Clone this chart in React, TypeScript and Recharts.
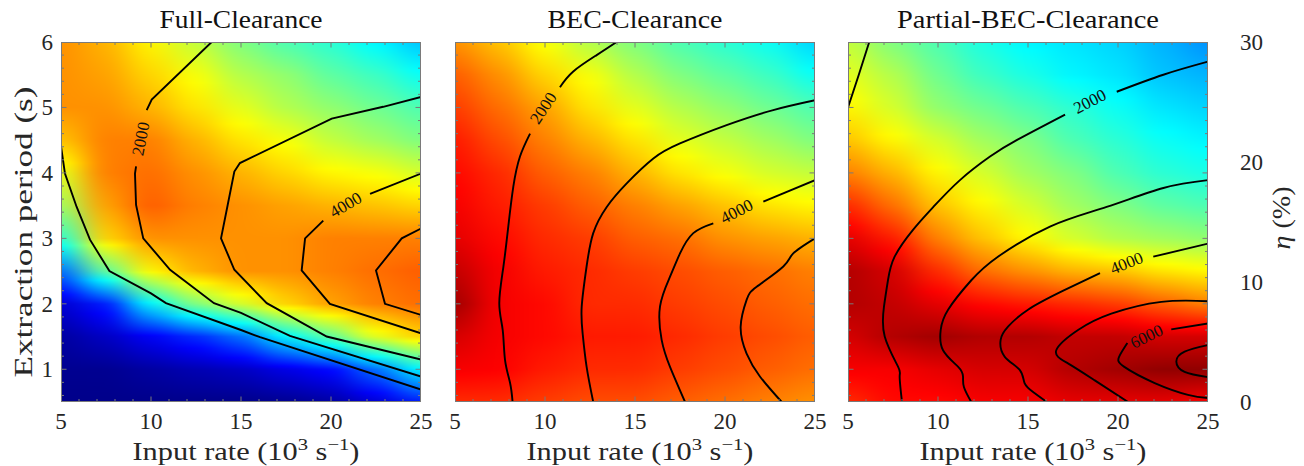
import React from 'react';
import { ComposedChart, XAxis, YAxis, Scatter, ReferenceArea } from 'recharts';

const FONT = "'Liberation Serif', 'Times New Roman', serif";
const AXIS_COLOR = '#7a7a7a';
const TEXT_COLOR = '#262626';

// ---- grid of the colour field (eta, %) : rows = extraction period (top->bottom), cols = input rate ----
const X_GRID = [5, 7.5, 10, 12.5, 15, 17.5, 20, 22.5, 25];
const Y_GRID = [6, 5.5, 5, 4.5, 4, 3.5, 3, 2.5, 2, 1.5, 1, 0.5];
const X_DOMAIN = [5, 25];
const Y_DOMAIN = [0.5, 6];

const FULL_ETA = [
  [22, 21, 19, 17, 15, 13.5, 12.5, 11, 9.5],
  [22, 21.5, 20, 18.5, 16.5, 15.5, 14, 13, 11.5],
  [22, 22, 21, 19.5, 18, 16.5, 15.5, 14.5, 13.5],
  [20.5, 22.5, 22.5, 21, 19.5, 18.5, 17, 16, 15],
  [18, 22.5, 23, 22, 21, 20, 19, 18.5, 17.5],
  [16, 21.5, 23.5, 22.5, 22, 21.5, 21, 20.5, 20],
  [12.5, 20, 22, 22, 22, 22, 22.5, 22.5, 22.5],
  [7, 14, 19, 21, 22, 22, 22.5, 23, 23.5],
  [2.5, 4.5, 11, 15, 17.5, 20, 21.5, 22.5, 23],
  [1, 2, 3.5, 5, 7, 11, 14, 18, 20],
  [0.5, 0.5, 1, 1.5, 2, 3, 4, 7, 11],
  [0.3, 0.3, 0.3, 0.3, 0.3, 0.5, 1, 2.5, 4.5],
];

const BEC_ETA = [
  [22, 20.5, 18.5, 16.5, 15, 13.5, 12.5, 11.5, 10],
  [23.5, 22, 20, 18.5, 16.5, 15, 14, 13, 11.5],
  [24.5, 23, 21.5, 19.5, 18, 16.5, 15.5, 14.5, 13.5],
  [25.5, 24, 22.5, 21, 19.5, 18, 17, 16, 15],
  [26, 25, 23.5, 22.5, 21, 19.5, 18.5, 17.5, 17],
  [26.5, 25.5, 24.5, 23.5, 22.5, 21.5, 20.5, 19.5, 19],
  [27, 26, 25, 24.5, 23.5, 23, 22, 21.5, 21],
  [28, 26.5, 25.5, 25, 24.5, 24, 23.5, 23, 22.5],
  [29, 26.5, 26, 25, 25, 24.5, 24, 23.5, 23],
  [27.5, 26.5, 26, 25.5, 25.5, 25, 24.5, 24, 23.5],
  [26.5, 26.3, 25.5, 25, 25, 24.5, 24, 23.5, 23],
  [25, 25, 24.5, 24, 24, 23.5, 23, 22.5, 22],
];

const PARTIAL_ETA = [
  [17, 15, 13.5, 12, 11, 10.5, 10, 9, 8],
  [18, 16.5, 14.5, 13, 12, 11, 10.5, 9.5, 9],
  [19, 17.5, 15.5, 14.5, 13.5, 12.5, 11.5, 10.5, 10],
  [20.5, 19, 17.5, 16, 15, 13.5, 12.5, 11.5, 11],
  [22.5, 21, 19, 17.5, 16, 15, 13.5, 12.5, 12],
  [25, 23, 20.5, 19, 17.5, 16, 15, 14, 13.5],
  [27, 25.5, 22.5, 20.5, 19, 17.5, 16.5, 16, 15.5],
  [28.5, 27.5, 25, 23, 22, 21, 20.5, 19.5, 19],
  [28.5, 28, 27, 26, 25.5, 25, 24.5, 23.5, 22.5],
  [27.5, 28.5, 29, 28.5, 28.5, 28, 28, 27.5, 27.5],
  [26.5, 26.5, 27, 27.5, 27.5, 28.5, 29, 29.5, 29.5],
  [25, 26, 26, 26.5, 26.5, 27, 27, 27, 26.5],
];

// ---- ticks ----
const X_TICKS = [5, 6, 7, 8, 9, 10, 11, 12, 13, 14, 15, 16, 17, 18, 19, 20, 21, 22, 23, 24, 25];
const Y_TICKS = [0.6, 0.8, 1, 1.2, 1.4, 1.6, 1.8, 2, 2.2, 2.4, 2.6, 2.8, 3, 3.2, 3.4, 3.6, 3.8, 4, 4.2, 4.4, 4.6, 4.8, 5, 5.2, 5.4, 5.6, 5.8, 6];
const CB_TICKS = [0, 10, 20, 30];

// ---- contour lines [input rate, extraction period] ----
const FULL_C1000 = [[5, 4.41], [5.22, 3.99], [5.87, 3.48], [6.61, 2.98], [7.69, 2.5], [10.0, 2.16], [10.83, 2.01], [15.0, 1.6], [16.06, 1.49], [25, 0.69]];
const FULL_C2000_A = [[13.37, 6.0], [10.04, 5.12], [9.76, 4.96]];
const FULL_C2000_B = [[9.17, 4.1], [9.11, 3.99], [9.17, 3.51], [9.57, 3.0], [11.06, 2.52], [13.5, 2.01], [15.0, 1.86], [17.72, 1.51], [25, 0.89]];
const FULL_C3000 = [[25, 5.16], [22.9, 5.01], [20.04, 4.83], [14.94, 4.15], [14.63, 4.02], [14.26, 3.51], [13.89, 3.0], [14.63, 2.52], [16.43, 2.01], [19.76, 1.5], [25, 1.15]];
const FULL_C4000_A = [[25, 3.99], [22.17, 3.68]];
const FULL_C4000_B = [[19.57, 3.27], [18.56, 3.0], [18.37, 2.51], [19.94, 2.0], [25, 1.55]];
const FULL_C5000 = [[25, 3.15], [23.93, 3.0], [22.5, 2.51], [23.0, 2.0], [25, 1.83]];
const FULL_LABELS = [{ x: 9.44, y: 4.52, t: '2000' }, { x: 20.82, y: 3.51, t: '4000' }];
const FULL_LABEL_ANGLES = [-79, -30];

const BEC_C2000_A = [[13.98, 6.0], [12.87, 5.8], [11.57, 5.55], [10.83, 5.31]];
const BEC_C2000_B = [[9.17, 4.6], [8.61, 4.25], [8.24, 3.79], [7.96, 3.18], [7.69, 2.57], [7.46, 2.01], [7.65, 1.6], [7.78, 1.14], [8.06, 0.79], [8.2, 0.5]];
const BEC_C3000 = [[25, 5.11], [22.68, 4.96], [20.09, 4.73], [17.5, 4.45], [16.02, 4.22], [14.54, 3.84], [13.43, 3.48], [12.68, 3.08], [12.31, 2.57], [12.04, 1.96], [12.09, 1.55], [12.31, 1.04], [12.68, 0.5]];
const BEC_C4000_A = [[25, 3.89], [22.13, 3.56]];
const BEC_C4000_B = [[19.35, 3.23], [18.24, 3.08], [17.5, 2.77], [16.94, 2.41], [16.39, 1.96], [16.48, 1.45], [16.94, 1.04], [17.78, 0.5]];
const BEC_C5000 = [[25, 3.0], [23.79, 2.77], [23.24, 2.57], [21.76, 2.26], [21.2, 2.06], [20.87, 1.65], [21.2, 1.24], [21.94, 0.89], [23.15, 0.5]];
const BEC_LABELS = [{ x: 9.91, y: 4.99, t: '2000' }, { x: 20.65, y: 3.41, t: '4000' }];
const BEC_LABEL_ANGLES = [-56, -27];

const PART_C1000 = [[6.18, 6.0], [5.6, 5.5], [5.0, 5.0]];
const PART_C2000_A = [[25, 5.7], [22.52, 5.5], [19.93, 5.24]];
const PART_C2000_B = [[17.06, 4.89], [14.37, 4.5], [12.89, 4.25], [11.22, 3.89], [9.74, 3.48], [8.61, 3.13], [7.59, 2.72], [7.22, 2.36], [7.0, 1.96], [7.04, 1.5], [7.78, 1.04], [7.87, 0.89], [8.0, 0.5]];
const PART_C3000 = [[25, 3.89], [22.52, 3.77], [19.37, 3.48], [16.22, 3.18], [13.33, 2.72], [11.85, 2.36], [10.56, 1.91], [10.15, 1.6], [10.28, 1.29], [11.11, 1.04], [11.39, 0.89], [11.44, 0.73], [11.85, 0.5]];
const PART_C4000_A = [[25, 2.92], [21.96, 2.72]];
const PART_C4000_B = [[19.0, 2.47], [16.96, 2.2], [15.0, 1.91], [13.89, 1.65], [13.48, 1.45], [13.71, 1.19], [14.54, 0.99], [14.81, 0.79], [15.3, 0.65], [16.04, 0.5]];
const PART_C5000 = [[25, 2.04], [22.41, 2.03], [19.63, 1.85], [17.78, 1.6], [16.57, 1.29], [17.22, 1.09], [18.71, 0.83], [20.56, 0.5]];
const PART_C6000_A = [[25, 1.7], [22.96, 1.61]];
const PART_C6000_B = [[20.52, 1.4], [20.06, 1.19], [20.33, 1.04], [22.04, 0.79], [23.89, 0.61], [25, 0.56]];
const PART_C7000 = [[25, 1.37], [23.7, 1.27], [23.24, 1.12], [23.7, 0.96], [25, 0.88]];
const PART_LABELS = [{ x: 18.44, y: 5.09, t: '2000' }, { x: 20.48, y: 2.62, t: '4000' }, { x: 21.59, y: 1.5, t: '6000' }];
const PART_LABEL_ANGLES = [-27, -22, -26];

// ---- helpers ----
function jet(v: number): string {
  const t = Math.max(0, Math.min(1, v / 30));
  const c = (a: number) => Math.round(255 * Math.max(0, Math.min(1, a)));
  const r = c(Math.min(4 * t - 1.5, -4 * t + 4.5));
  const g = c(Math.min(4 * t - 0.5, -4 * t + 3.5));
  const b = c(Math.min(4 * t + 0.5, -4 * t + 2.5));
  return `rgb(${r},${g},${b})`;
}
const JET_BREAKS = [3.75, 11.25, 18.75, 26.25];

// gradient stops for one column (values top -> bottom), inserting jet breakpoints so colours follow the value linearly
function columnStops(vals: number[]): [number, number][] {
  const n = vals.length;
  const out: [number, number][] = [];
  for (let i = 0; i < n; i++) {
    const o = i / (n - 1);
    out.push([o, vals[i]]);
    if (i < n - 1) {
      const a = vals[i];
      const b = vals[i + 1];
      const o2 = (i + 1) / (n - 1);
      const bs = JET_BREAKS.filter((k) => (k - a) * (k - b) < 0).sort((p, q) => (a < b ? p - q : q - p));
      bs.forEach((k) => out.push([o + ((k - a) / (b - a)) * (o2 - o), k]));
    }
  }
  return out;
}

const toPts = (arr: number[][]) => arr.map(([x, y]) => ({ x, y }));
const heatColumns = (eta: number[][]) =>
  X_GRID.map((x, j) => ({ x, y: (Y_DOMAIN[0] + Y_DOMAIN[1]) / 2, j, vals: eta.map((row) => row[j]) }));

const FRAME = [
  { x: X_DOMAIN[0], y: Y_DOMAIN[0] },
  { x: X_DOMAIN[1], y: Y_DOMAIN[0] },
  { x: X_DOMAIN[1], y: Y_DOMAIN[1] },
  { x: X_DOMAIN[0], y: Y_DOMAIN[1] },
  { x: X_DOMAIN[0], y: Y_DOMAIN[0] },
];
const TICK_MARKS = [
  ...X_TICKS.map((t) => ({ x: t, y: Y_DOMAIN[0], side: 'b' })),
  ...X_TICKS.map((t) => ({ x: t, y: Y_DOMAIN[1], side: 't' })),
  ...Y_TICKS.map((t) => ({ x: X_DOMAIN[0], y: t, side: 'l' })),
  ...Y_TICKS.map((t) => ({ x: X_DOMAIN[1], y: t, side: 'r' })),
];

const PLOT_W = 360;
const PLOT_H = 360;
const CELL_W = (PLOT_W / (X_DOMAIN[1] - X_DOMAIN[0])) * (X_GRID[1] - X_GRID[0]);
const EXT = 40;

const makeHeatColumn = (prefix: string) => (props: any) => {
  const { cx, cy } = props;
  const d = props.payload || props;
  if (cx == null || cy == null) return <g />;
  let x0 = cx - CELL_W / 2 - 0.5;
  let x1 = cx + CELL_W / 2 + 0.5;
  if (d.j === 0) x0 -= EXT;
  if (d.j === X_GRID.length - 1) x1 += EXT;
  const id = `${prefix}-col-${d.j}`;
  return (
    <g>
      <defs>
        <linearGradient id={id} x1="0" y1="0" x2="0" y2="1">
          {columnStops(d.vals).map(([o, v], i) => (
            <stop key={i} offset={o} stopColor={jet(v)} />
          ))}
        </linearGradient>
      </defs>
      <rect x={x0} y={cy - PLOT_H / 2} width={x1 - x0} height={PLOT_H} fill={`url(#${id})`} stroke="none" />
    </g>
  );
};

const NoShape = () => <g />;

const TickMark = (props: any) => {
  const { cx, cy } = props;
  const d = props.payload || props;
  const horiz = d.side === 'b' || d.side === 't';
  const major = horiz ? isMult(d.x, 5) : isMult(d.y, 1);
  const len = major ? 5.5 : 3;
  if (d.side === 'b') return <line x1={cx} x2={cx} y1={cy} y2={cy - len} stroke={AXIS_COLOR} strokeWidth={1} />;
  if (d.side === 't') return <line x1={cx} x2={cx} y1={cy} y2={cy + len} stroke={AXIS_COLOR} strokeWidth={1} />;
  if (d.side === 'l') return <line x1={cx} x2={cx + len} y1={cy} y2={cy} stroke={AXIS_COLOR} strokeWidth={1} />;
  return <line x1={cx} x2={cx - len} y1={cy} y2={cy} stroke={AXIS_COLOR} strokeWidth={1} />;
};

const makeLabelShape = (angles: number[], labels: { t: string }[]) => (props: any) => {
  const { cx, cy } = props;
  const d = props.payload || props;
  const idx = labels.findIndex((l) => l.t === d.t);
  const a = angles[idx] ?? 0;
  return (
    <text
      x={cx}
      y={cy}
      transform={`rotate(${a} ${cx} ${cy})`}
      textAnchor="middle"
      dominantBaseline="central"
      fontSize={17}
      fontFamily={FONT}
      fill="#111"
    >
      {d.t}
    </text>
  );
};

function isMult(v: number, m: number) {
  return Math.abs(v / m - Math.round(v / m)) < 1e-6;
}

const BottomTick = (props: any) => {
  const { x, y, payload } = props;
  const v = payload.value;
  if (!isMult(v, 5)) return <g />;
  return (
    <text x={x} y={y + 27} textAnchor="middle" fontSize={23} fontFamily={FONT} fill={TEXT_COLOR}>
      {v}
    </text>
  );
};

const makeLeftTick = (showLabels: boolean) => (props: any) => {
  const { x, y, payload } = props;
  const v = payload.value;
  if (!showLabels || !isMult(v, 1)) return <g />;
  return (
    <text x={x - 8} y={y + 8} textAnchor="end" fontSize={23} fontFamily={FONT} fill={TEXT_COLOR}>
      {Math.round(v)}
    </text>
  );
};

const PanelTexts = ({ title, titleLen, showY }: any) => (
  <g>
    <text x={241} y={28} textAnchor="middle" fontSize={25} fontFamily={FONT} fill="#111" textLength={titleLen} lengthAdjust="spacingAndGlyphs">
      {title}
    </text>
    <text x={246} y={460} textAnchor="middle" fontSize={25} fontFamily={FONT} fill={TEXT_COLOR} textLength={227} lengthAdjust="spacingAndGlyphs">
      Input rate (10
      <tspan dy={-10} fontSize={17}>3</tspan>
      <tspan dy={10}>{' s'}</tspan>
      <tspan dy={-10} fontSize={17}>−1</tspan>
      <tspan dy={10}>)</tspan>
    </text>
    {showY && (
      <text
        x={31.5}
        y={232}
        transform="rotate(-90 31.5 232)"
        textAnchor="middle"
        fontSize={25}
        fontFamily={FONT}
        fill={TEXT_COLOR}
        textLength={291}
        lengthAdjust="spacingAndGlyphs"
      >
        Extraction period (s)
      </text>
    )}
  </g>
);

const CbLabelText = ({ px, py }: any) => (
  <text
    x={px}
    y={py}
    transform={`rotate(-90 ${px} ${py})`}
    textAnchor="middle"
    fontSize={25}
    fontFamily={FONT}
    fill={TEXT_COLOR}
    textLength={63}
    lengthAdjust="spacingAndGlyphs"
  >
    <tspan fontStyle="italic">η</tspan> (%)
  </text>
);

type PanelCfg = {
  id: string;
  left: number;
  title: string;
  titleLen: number;
  eta: number[][];
  lines: number[][][];
  curve: any;
  labels: { x: number; y: number; t: string }[];
  angles: number[];
  showY: boolean;
};

const PANELS: PanelCfg[] = [
  {
    id: 'full',
    left: 0,
    title: 'Full-Clearance',
    titleLen: 163,
    eta: FULL_ETA,
    lines: [FULL_C1000, FULL_C2000_A, FULL_C2000_B, FULL_C3000, FULL_C4000_A, FULL_C4000_B, FULL_C5000],
    curve: 'linear',
    labels: FULL_LABELS,
    angles: FULL_LABEL_ANGLES,
    showY: true,
  },
  {
    id: 'bec',
    left: 394,
    title: 'BEC-Clearance',
    titleLen: 175,
    eta: BEC_ETA,
    lines: [BEC_C2000_A, BEC_C2000_B, BEC_C3000, BEC_C4000_A, BEC_C4000_B, BEC_C5000],
    curve: 'natural',
    labels: BEC_LABELS,
    angles: BEC_LABEL_ANGLES,
    showY: false,
  },
  {
    id: 'part',
    left: 787,
    title: 'Partial-BEC-Clearance',
    titleLen: 262,
    eta: PARTIAL_ETA,
    lines: [PART_C1000, PART_C2000_A, PART_C2000_B, PART_C3000, PART_C4000_A, PART_C4000_B, PART_C5000, PART_C6000_A, PART_C6000_B, PART_C7000],
    curve: 'natural',
    labels: PART_LABELS,
    angles: PART_LABEL_ANGLES,
    showY: false,
  },
];

const Panel = ({ cfg }: { cfg: PanelCfg }) => {
  const heat = heatColumns(cfg.eta);
  const labelShape = makeLabelShape(cfg.angles, cfg.labels);
  return (
    <div style={{ position: 'absolute', left: cfg.left, top: 0 }}>
      <ComposedChart width={440} height={466} margin={{ top: 42, right: 19, bottom: 0, left: 0 }}>
        <XAxis
          xAxisId="b"
          type="number"
          dataKey="x"
          domain={X_DOMAIN}
          ticks={X_TICKS}
          interval={0}
          allowDataOverflow
          orientation="bottom"
          height={64}
          tickSize={0}
          tickMargin={0}
          tickLine={false}
          axisLine={false}
          tick={BottomTick}
          label={<PanelTexts title={cfg.title} titleLen={cfg.titleLen} showY={cfg.showY} />}
        />
        <YAxis
          yAxisId="l"
          type="number"
          dataKey="y"
          domain={Y_DOMAIN}
          ticks={Y_TICKS}
          interval={0}
          allowDataOverflow
          orientation="left"
          width={61}
          tickSize={0}
          tickMargin={0}
          tickLine={false}
          axisLine={false}
          tick={makeLeftTick(cfg.showY)}
        />
        <Scatter xAxisId="b" yAxisId="l" className="heat" data={heat} shape={makeHeatColumn(cfg.id)} isAnimationActive={false} />
        {cfg.lines.map((pts, i) => (
          <Scatter
            key={`c${i}`}
            xAxisId="b"
            yAxisId="l"
            data={toPts(pts)}
            line={{ stroke: '#000', strokeWidth: 1.9 }}
            lineJointType={cfg.curve}
            shape={NoShape}
            fill="#000"
            isAnimationActive={false}
          />
        ))}
        <Scatter xAxisId="b" yAxisId="l" data={cfg.labels} shape={labelShape} isAnimationActive={false} />
        <Scatter
          xAxisId="b"
          yAxisId="l"
          data={FRAME}
          line={{ stroke: AXIS_COLOR, strokeWidth: 2 }}
          shape={NoShape}
          fill={AXIS_COLOR}
          isAnimationActive={false}
        />
        <Scatter xAxisId="b" yAxisId="l" data={TICK_MARKS} shape={TickMark} isAnimationActive={false} />
      </ComposedChart>
    </div>
  );
};

const JET_STOPS = [0, 0.125, 0.375, 0.625, 0.875, 1];

const ColorBar = () => (
  <div style={{ position: 'absolute', left: 1212, top: 0 }}>
    <ComposedChart width={92} height={466} margin={{ top: 42, right: 0, bottom: 64, left: 11 }}>
      <XAxis xAxisId="b" type="number" domain={[0, 1]} allowDataOverflow hide />
      <YAxis
        yAxisId="r"
        type="number"
        domain={[0, 30]}
        ticks={CB_TICKS}
        interval={0}
        allowDataOverflow
        orientation="right"
        width={71}
        tickSize={0}
        tickMargin={0}
        tickLine={false}
        axisLine={false}
        tick={(p: any) => (
          <text x={p.x + 7} y={p.y + 8} textAnchor="start" fontSize={23} fontFamily={FONT} fill={TEXT_COLOR}>
            {p.payload.value}
          </text>
        )}
        label={<CbLabelText px={77.5} py={218} />}
      />
      <ReferenceArea xAxisId="b" yAxisId="r" x1={0} x2={1} y1={0} y2={30} fill="url(#jetGrad)" fillOpacity={1} stroke={AXIS_COLOR} strokeWidth={1} />
    </ComposedChart>
  </div>
);

export default function App() {
  return (
    <div style={{ position: 'absolute', left: 0, top: 0, width: 1304, height: 466, background: '#fff', fontFamily: FONT }}>
      <style>{`.heat { filter: url(#heatBlur); } svg text { font-family: 'Liberation Serif', 'Times New Roman', serif !important; }`}</style>
      <svg width={0} height={0} style={{ position: 'absolute' }}>
        <defs>
          <filter id="heatBlur" x="-10%" y="-10%" width="120%" height="120%" colorInterpolationFilters="sRGB">
            <feGaussianBlur stdDeviation="15 0" />
          </filter>
          <linearGradient id="jetGrad" x1="0" y1="1" x2="0" y2="0">
            {JET_STOPS.map((t) => (
              <stop key={t} offset={t} stopColor={jet(t * 30)} />
            ))}
          </linearGradient>
        </defs>
      </svg>
      {PANELS.map((cfg) => (
        <Panel key={cfg.id} cfg={cfg} />
      ))}
      <ColorBar />
    </div>
  );
}
